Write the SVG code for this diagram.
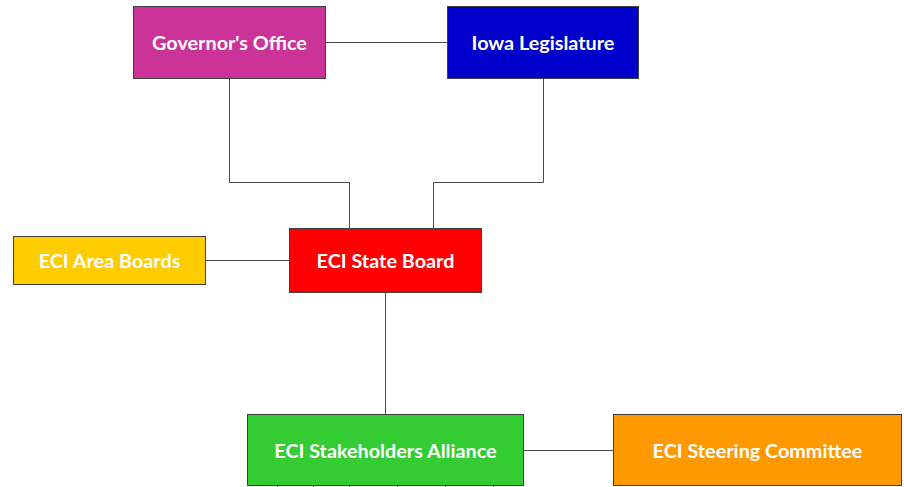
<svg xmlns="http://www.w3.org/2000/svg" width="904" height="487" viewBox="0 0 904 487">
<style>
.box{stroke:#404040;stroke-width:1}
.lbl{font-family:Lato,"Open Sans","Liberation Sans",sans-serif;font-weight:bold;font-size:19.8px;fill:#ffffff;text-anchor:middle;dominant-baseline:central}
.con{fill:none;stroke:#4a4a4a;stroke-width:1}
</style>
<rect width="904" height="487" fill="#ffffff"/>
<g id="connectors">
<path class="con" d="M325,42.5H447"/>
<path class="con" d="M229.5,78V182.5H349.5V228"/>
<path class="con" d="M543.5,78V182.5H433.5V228"/>
<path class="con" d="M205,260.5H289"/>
<path class="con" d="M385.5,292V414"/>
<path class="con" d="M523,450.5H613"/>
<path class="con" d="M277.5,486V487M313.5,486V487M349.5,486V487M397.5,486V487M445.5,486V487M493.5,486V487"/>
</g>
<g id="governor"><rect class="box" x="133.5" y="6.5" width="192" height="72" fill="#CC3399"/><text class="lbl" x="229.5" y="41.5">Governor's Office</text></g>
<g id="iowa"><rect class="box" x="447.5" y="6.5" width="191" height="72" fill="#0000CC"/><text class="lbl" x="543" y="41.5">Iowa Legislature</text></g>
<g id="stateboard"><rect class="box" x="289.5" y="228.5" width="192" height="64" fill="#FF0000"/><text class="lbl" x="385.5" y="260">ECI State Board</text></g>
<g id="areaboards"><rect class="box" x="13.5" y="236.5" width="192" height="48" fill="#FFCC00"/><text class="lbl" x="109.5" y="260">ECI Area Boards</text></g>
<g id="stakeholders"><rect class="box" x="247.5" y="414.5" width="276" height="71" fill="#33CC33"/><text class="lbl" x="385.5" y="449.5">ECI Stakeholders Alliance</text></g>
<g id="steering"><rect class="box" x="613.5" y="414.5" width="288" height="71" fill="#FF9900"/><text class="lbl" x="757.5" y="449.5">ECI Steering Committee</text></g>
</svg>
